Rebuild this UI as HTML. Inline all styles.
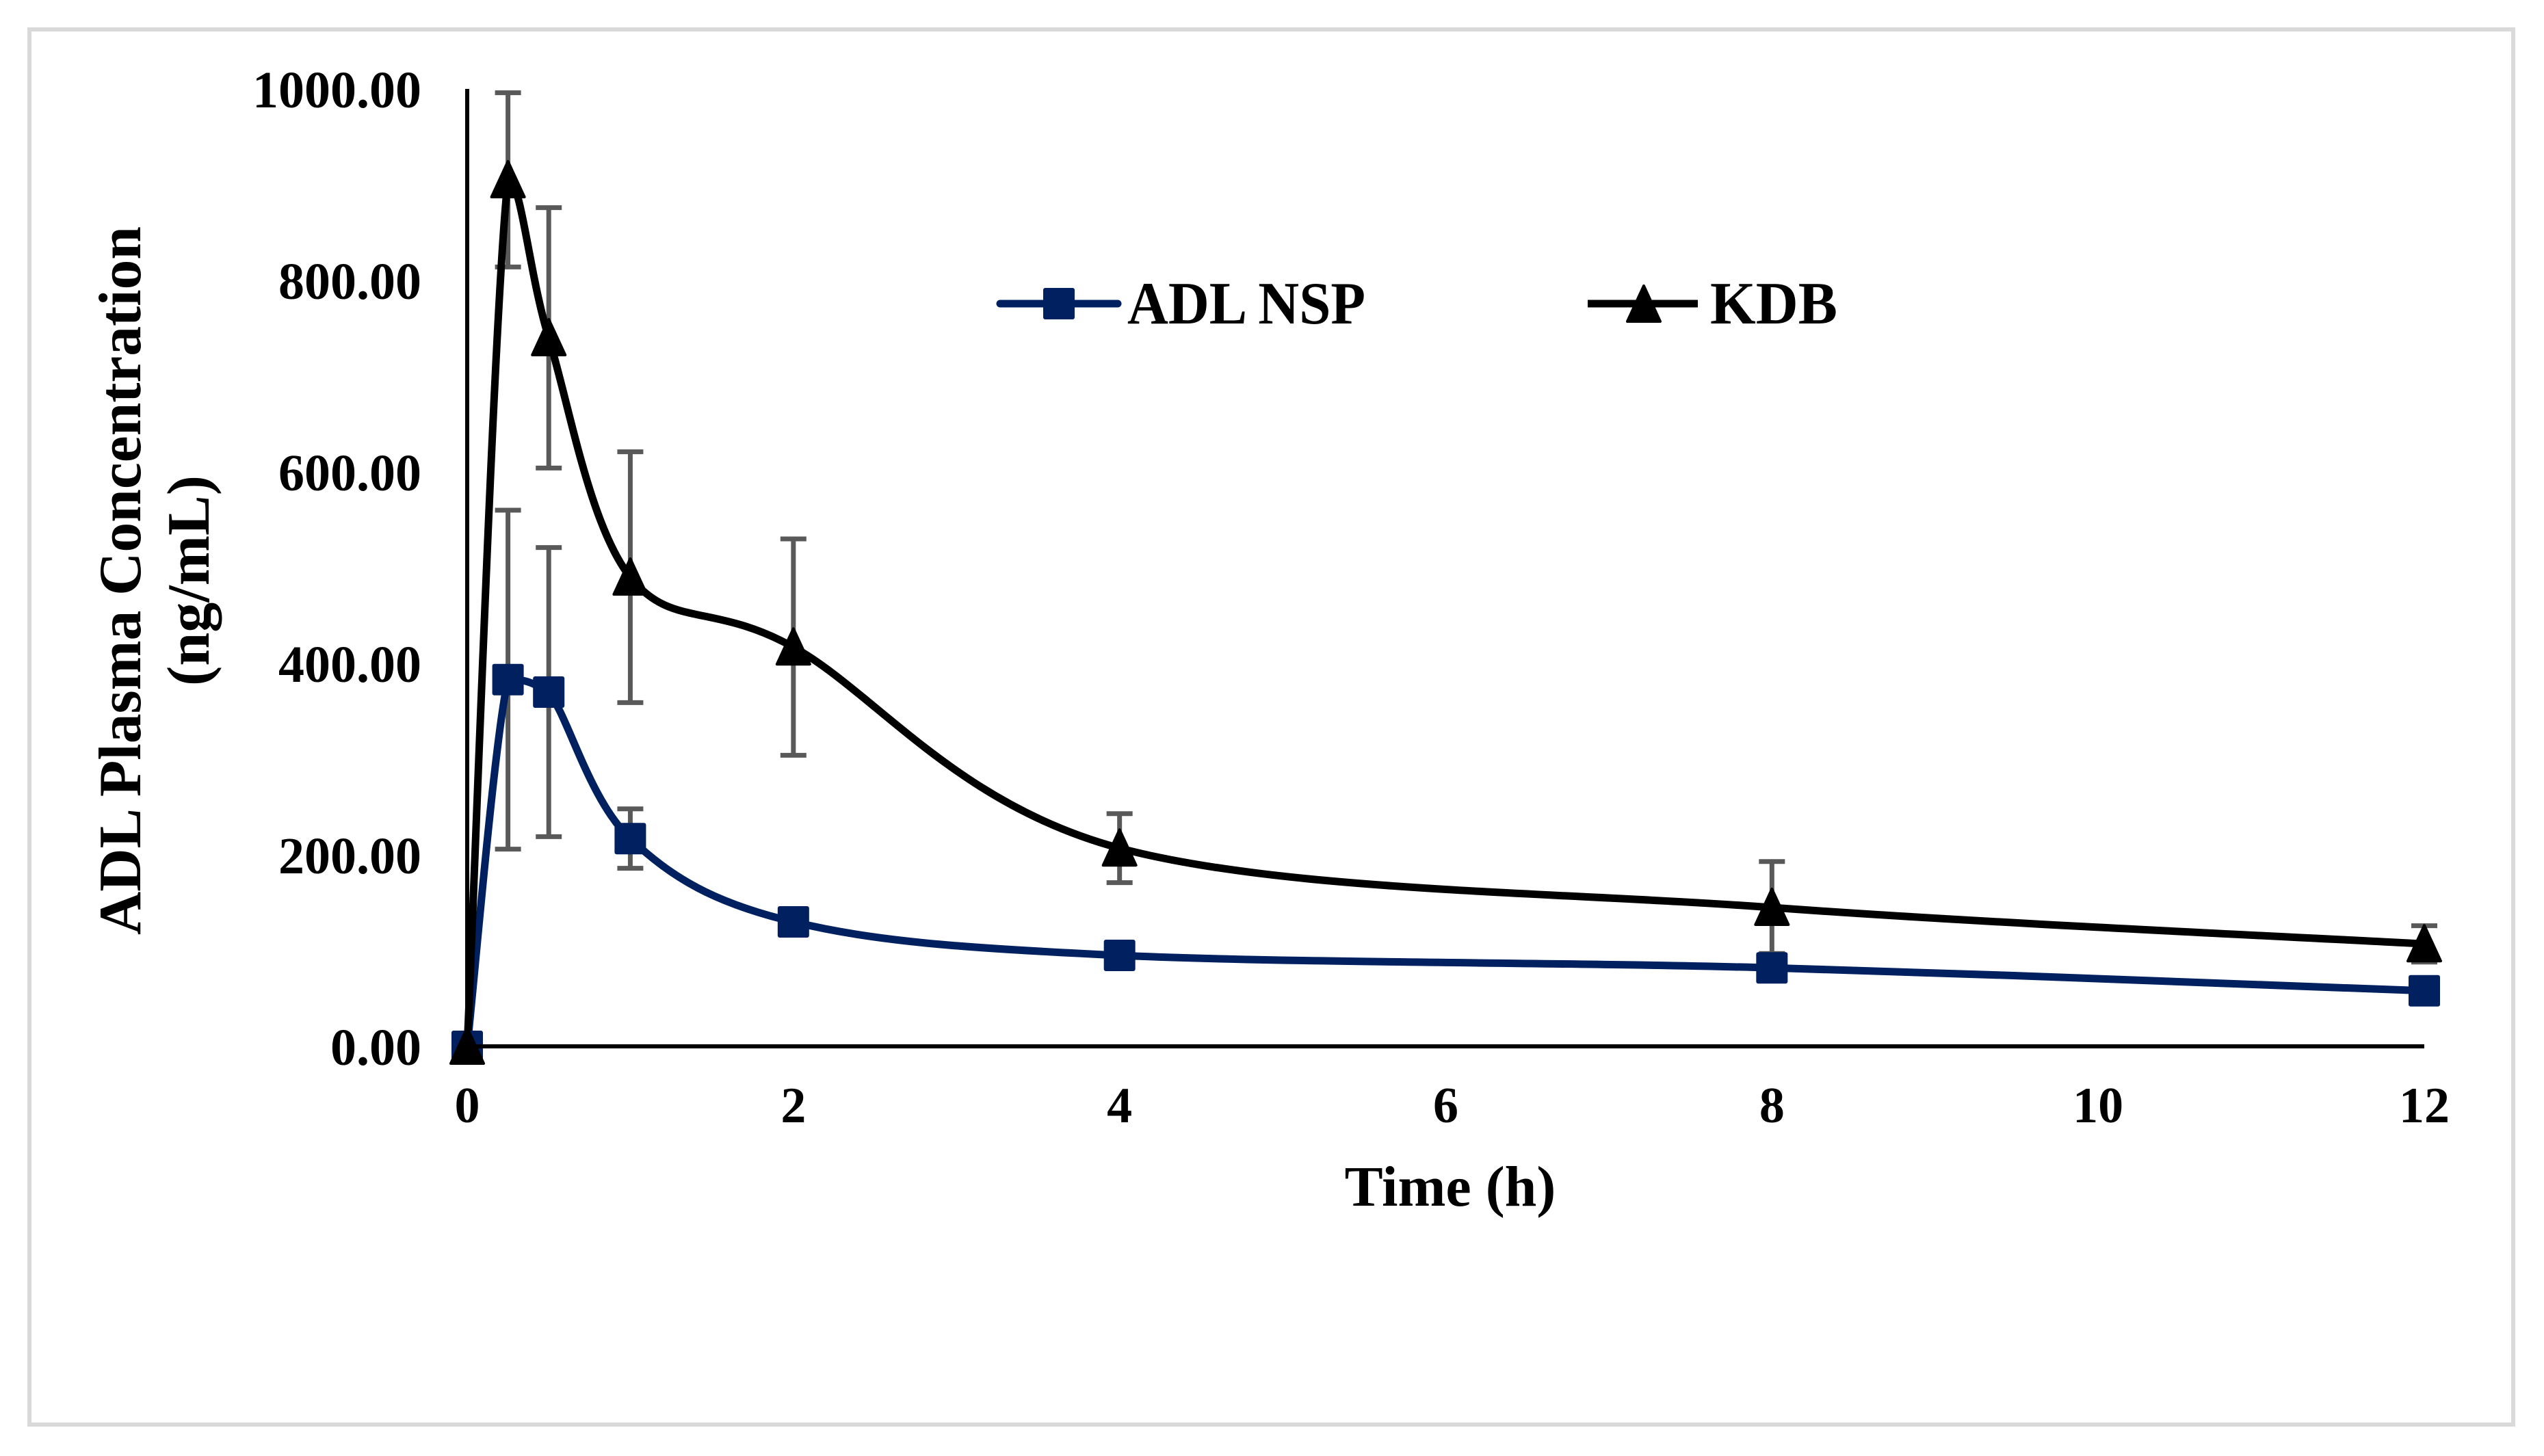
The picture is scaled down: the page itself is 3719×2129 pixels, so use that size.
<!DOCTYPE html>
<html><head><meta charset="utf-8"><style>
html,body{margin:0;padding:0;background:#fff;}
svg{display:block;font-family:"Liberation Serif",serif;font-weight:bold;}
</style></head><body>
<svg id="chart" width="3719" height="2129" viewBox="0 0 3719 2129" xmlns="http://www.w3.org/2000/svg">
<rect x="43" y="43" width="3631" height="2040" fill="#fff" stroke="#d9d9d9" stroke-width="6"/>
<g id="errs"></g>
<g id="lines"></g>
<g id="marks"></g>
<line x1="683" y1="130" x2="683" y2="1530" stroke="#000" stroke-width="6"/>
<line x1="683" y1="1530" x2="3544" y2="1530" stroke="#000" stroke-width="6"/>
<g id="yticks"></g>
<g id="xticks"></g>
<text x="2120" y="1763" font-size="84" text-anchor="middle">Time (h)</text>
<g transform="translate(0,849) rotate(-90)">
<text x="0" y="205" font-size="88" text-anchor="middle" textLength="1036" lengthAdjust="spacingAndGlyphs">ADL Plasma Concentration</text>
<text x="0" y="305" font-size="88" text-anchor="middle">(ng/mL)</text>
</g>
<g>
<g>
<line x1="1462" y1="444" x2="1634" y2="444" stroke="#002060" stroke-width="11" stroke-linecap="round"/>
<rect x="1525" y="421" width="46" height="46" rx="3" fill="#002060"/>
<text x="1648" y="473" font-size="88" textLength="348" lengthAdjust="spacingAndGlyphs">ADL NSP</text>
</g>
<g>
<line x1="2321" y1="444" x2="2482" y2="444" stroke="#000" stroke-width="11"/>
<polygon points="2403,418 2427,470 2379,470" fill="#000" stroke="#000" stroke-width="4" stroke-linejoin="round"/>
<text x="2500" y="473" font-size="88" textLength="186" lengthAdjust="spacingAndGlyphs">KDB</text>
</g>
</g>
</svg>
<script>
const times=[0,0.25,0.5,1,2,4,8,12];
const adlValues=[0,383,370,217,130,95,82,58];
const adlErrors=[0,177,151,31,0,0,0,0];
const kdbValues=[0,905,740,490,417,207,145,107];
const kdbErrors=[0,91,136,131,113,36,48,19];
const yTickValues=[0,200,400,600,800,1000];
const yTickLabels=["0.00","200.00","400.00","600.00","800.00","1000.00"];
const xTickValues=[0,2,4,6,8,10,12];
const xTickLabels=["0","2","4","6","8","10","12"];

const NS="http://www.w3.org/2000/svg";
const X0=683,X1=3544,Y0=1530,Y1=130,XMAX=12,YMAX=1000;
function xs(t){return X0+(X1-X0)*t/XMAX;}
function ys(v){return Y0-(Y0-Y1)*v/YMAX;}
function mk(tag,attrs,parent){const e=document.createElementNS(NS,tag);for(const k in attrs)e.setAttribute(k,attrs[k]);parent.appendChild(e);return e;}
const gE=document.getElementById('errs'),gL=document.getElementById('lines'),gM=document.getElementById('marks');
const gY=document.getElementById('yticks'),gX=document.getElementById('xticks');

yTickValues.forEach((v,i)=>{
  const t=mk('text',{x:616,y:ys(v)+27,'font-size':76,'text-anchor':'end'},gY);
  
  
  t.textContent=yTickLabels[i];
});
xTickValues.forEach((v,i)=>{
  const t=mk('text',{x:xs(v),y:1641,'font-size':74,'text-anchor':'middle'},gX);
  
  
  t.textContent=xTickLabels[i];
});

function clamp(v,a,b){const lo=Math.min(a,b),hi=Math.max(a,b);return Math.max(lo,Math.min(hi,v));}
function smoothPath(vals){
  const p=times.map((t,i)=>[xs(t),ys(vals[i])]);
  let d='M'+p[0][0]+','+p[0][1];
  for(let i=0;i<p.length-1;i++){
    const a=p[i-1]||p[i],b=p[i],c=p[i+1],e=p[i+2]||c;
    const c1=[b[0]+(c[0]-a[0])/6,clamp(b[1]+(c[1]-a[1])/6,b[1],c[1])];
    const c2=[c[0]-(e[0]-b[0])/6,clamp(c[1]-(e[1]-b[1])/6,b[1],c[1])];
    d+=' C'+c1[0]+','+c1[1]+' '+c2[0]+','+c2[1]+' '+c[0]+','+c[1];
  }
  return d;
}
function errBars(vals,errs,name){
  times.forEach((t,i)=>{
    if(!errs[i])return;
    const x=xs(t),yt=ys(vals[i]+errs[i]),yb=ys(vals[i]-errs[i]);
    const g=mk('g',{stroke:'#595959','stroke-width':7},gE);
    
    
    mk('line',{x1:x,y1:yt,x2:x,y2:yb},g);
    mk('line',{x1:x-19,y1:yt,x2:x+19,y2:yt},g);
    mk('line',{x1:x-19,y1:yb,x2:x+19,y2:yb},g);
  });
}
errBars(kdbValues,kdbErrors,'kdb');
errBars(adlValues,adlErrors,'adl-nsp');

const l1=mk('path',{d:smoothPath(adlValues),fill:'none',stroke:'#002060','stroke-width':11},gL);


const l2=mk('path',{d:smoothPath(kdbValues),fill:'none',stroke:'#000','stroke-width':11},gL);



times.forEach((t,i)=>{
  const x=xs(t),y=ys(adlValues[i]);
  const r=mk('rect',{x:x-23,y:y-23,width:46,height:46,rx:3,fill:'#002060'},gM);
  
  
});
times.forEach((t,i)=>{
  const x=xs(t),y=ys(kdbValues[i]);
  const p=mk('polygon',{points:(x)+','+(y-27)+' '+(x+24)+','+(y+25)+' '+(x-24)+','+(y+25),fill:'#000',stroke:'#000','stroke-width':4,'stroke-linejoin':'round'},gM);
  
  
});
</script>
</body></html>
